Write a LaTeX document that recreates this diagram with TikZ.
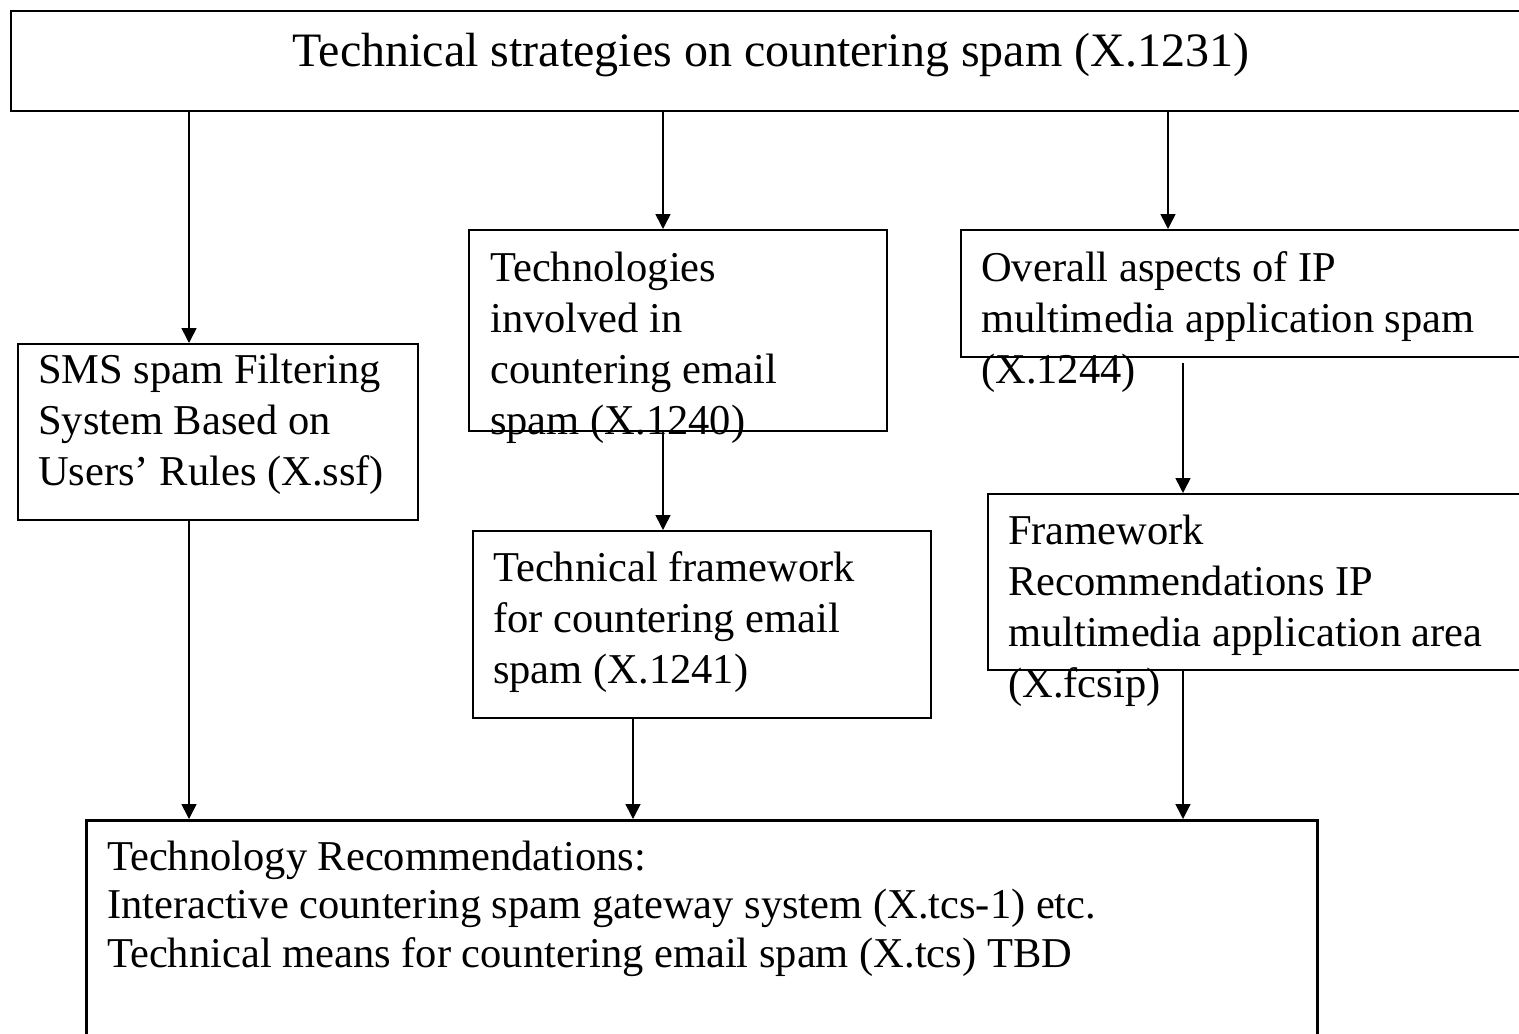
\documentclass[tikz,border=0pt]{standalone}
\usepackage{fontspec}
\setmainfont{Liberation Serif}
\usetikzlibrary{arrows.meta}
\tikzset{
  box/.style={draw=black, line width=2pt, inner sep=0pt, anchor=north west, fill=none},
  txt/.style={anchor=base west, inner sep=0pt, align=left},
  arr/.style={line width=1.6pt, -{Triangle[width=15pt,length=15pt]}},
  lnk/.style={line width=1.6pt}
}
\newcommand{\lines}[1]{\parbox[t]{700pt}{\fontsize{42.5}{51}\selectfont\raggedright #1}}
\begin{document}
\begin{tikzpicture}[x=1pt,y=-1pt]
\useasboundingbox (0,0) rectangle (1519,1034);
\clip (0,0) rectangle (1519,1034);
\fill[white] (0,0) rectangle (1519,1034);
% boxes
\node[box, line width=2.4pt, minimum width=1540pt, minimum height=100pt] (top) at (10,10) {};
\node[box, minimum width=400pt, minimum height=176pt] (sms) at (17,343) {};
\node[box, minimum width=418pt, minimum height=201pt] (tech) at (468,229) {};
\node[box, minimum width=600pt, minimum height=127pt] (overall) at (960,229) {};
\node[box, minimum width=458pt, minimum height=187pt] (frame) at (472,530) {};
\node[box, minimum width=600pt, minimum height=176pt] (fcs) at (987,493) {};
\node[box, line width=2.8pt, minimum width=1231pt, minimum height=260pt] (rec) at (85,819) {};
% texts
\node[anchor=base, inner sep=0pt] (topT) at (771,66) {\fontsize{48}{56}\selectfont Technical strategies on countering spam (X.1231)};
\node[txt] (smsT) at (38,383) {\lines{SMS spam Filtering\\System Based on\\Users’ Rules (X.ssf)}};
\node[txt] (techT) at (490,281) {\lines{Technologies\\involved in\\countering email\\spam (X.1240)}};
\node[txt] (overallT) at (981,281) {\lines{Overall aspects of IP\\multimedia application spam\\(X.1244)}};
\node[txt] (frameT) at (493,581) {\lines{Technical framework\\for countering email\\spam (X.1241)}};
\node[txt] (fcsT) at (1008,544) {\lines{Framework\\Recommendations IP\\multimedia application area\\(X.fcsip)}};
\node[txt] (recT) at (107,870) {\parbox[t]{1200pt}{\fontsize{42.5}{48.5}\selectfont Technology Recommendations:\\Interactive countering spam gateway system (X.tcs-1) etc.\\Technical means for countering email spam (X.tcs) TBD}};
% x positions of connectors
\coordinate (xa) at (189,0);
\coordinate (xb) at (663,0);
\coordinate (xc) at (1168,0);
\coordinate (xd) at (1183,0);
\coordinate (xe) at (633,0);
\coordinate (ovStart) at (1183,363);
% connectors
\draw[arr] (top.south -| xa) -- (sms.north -| xa);
\draw[arr] (top.south -| xb) -- (tech.north -| xb);
\draw[arr] (top.south -| xc) -- (overall.north -| xc);
\draw[arr] (tech.south -| xb) -- (frame.north -| xb);
\draw[arr] (ovStart) -- (fcs.north -| xd);
\draw[arr] (sms.south -| xa) -- (rec.north -| xa);
\draw[arr] (frame.south -| xe) -- (rec.north -| xe);
\draw[arr] (fcs.south -| xd) -- (rec.north -| xd);
\end{tikzpicture}
\end{document}
